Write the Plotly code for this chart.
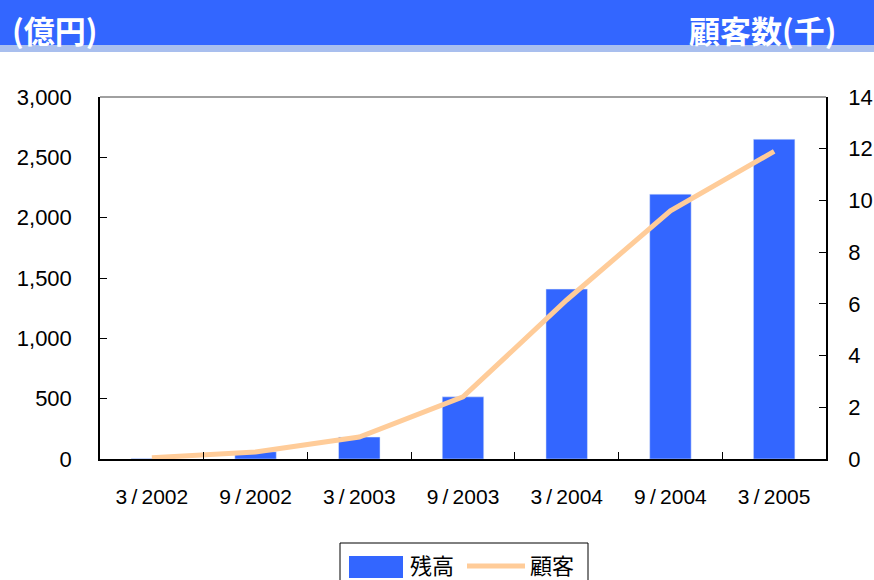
import plotly.graph_objects as go

categories = ["3/2002", "9/2002", "3/2003", "9/2003", "3/2004", "9/2004", "3/2005"]
balance = [5, 60, 182, 515, 1408, 2195, 2650]          # 残高 (億円)
customers = [0.05, 0.27, 0.85, 2.4, 6.15, 9.6, 11.9]    # 顧客 (千)
left_ticks = [0, 500, 1000, 1500, 2000, 2500, 3000]
right_ticks = [0, 2, 4, 6, 8, 10, 12, 14]

labels = [c.replace("/", "\u2009/\u2009") for c in categories]

W, H = 874, 580
L, R, T, B = 100, 826, 97, 459
pw, ph = R - L, B - T

def px(x):
    return (x - L) / pw

def py(y):
    return (B - y) / ph

BLUE = "#3366FF"
ORANGE = "#FFCC99"

fig = go.Figure()
fig.add_trace(go.Bar(x=labels, y=balance, name="残高", marker_color=BLUE,
                     width=0.4, yaxis="y"))
fig.add_trace(go.Scatter(x=labels, y=customers, name="顧客", mode="lines",
                         line=dict(color=ORANGE, width=5), yaxis="y2"))

num_font = dict(family="Liberation Sans, Arial, sans-serif", size=22, color="black")
cjk = "Noto Sans CJK JP, sans-serif"

fig.update_layout(
    width=W, height=H,
    margin=dict(l=L, r=W - R, t=T, b=H - B, autoexpand=False),
    paper_bgcolor="white", plot_bgcolor="white",
    font=dict(family="Liberation Sans, Noto Sans CJK JP, sans-serif", color="black"),
    showlegend=False,
    xaxis=dict(showline=True, linecolor="black", linewidth=2, ticks="inside",
               tickson="boundaries", ticklen=7, tickcolor="black",
               tickfont=dict(family="Liberation Sans, Arial, sans-serif", size=21, color="black"),
               showgrid=False, zeroline=False, automargin=False, ticklabelstandoff=18),
    yaxis=dict(range=[0, 3000], tickvals=left_ticks, tickformat=",d",
               showline=True, linecolor="black", linewidth=1.5,
               ticks="inside", ticklen=7, tickcolor="black",
               tickfont=num_font, showgrid=False, zeroline=False,
               automargin=False, ticklabelstandoff=22),
    yaxis2=dict(range=[0, 14], tickvals=right_ticks, overlaying="y", side="right",
                showline=True, linecolor="black", linewidth=1.5,
                ticks="inside", ticklen=7, tickcolor="black",
                tickfont=num_font, showgrid=False, zeroline=False,
                automargin=False, ticklabelstandoff=16),
    shapes=[
        # header band
        dict(type="rect", xref="paper", yref="paper", x0=px(0), x1=px(W),
             y0=py(45), y1=py(0), fillcolor=BLUE, line_width=0, layer="below"),
        dict(type="rect", xref="paper", yref="paper", x0=px(0), x1=px(W),
             y0=py(52), y1=py(45), fillcolor="#A9BFEE", line_width=0, layer="below"),
        # grey top border of plot
        dict(type="line", xref="paper", yref="paper", x0=0, x1=1, y0=1, y1=1,
             line=dict(color="#808080", width=1.5)),
        # legend box
        dict(type="rect", xref="paper", yref="paper", x0=px(340), x1=px(588),
             y0=py(585), y1=py(543), fillcolor="white",
             line=dict(color="black", width=1)),
        dict(type="rect", xref="paper", yref="paper", x0=px(349), x1=px(403),
             y0=py(578), y1=py(556), fillcolor=BLUE, line_width=0),
        dict(type="line", xref="paper", yref="paper", x0=px(467), x1=px(525),
             y0=py(566), y1=py(566), line=dict(color=ORANGE, width=5)),
    ],
    annotations=[
        dict(text="<b>(億円)</b>", xref="paper", yref="paper", x=px(10), y=py(30),
             xanchor="left", yanchor="middle", showarrow=False,
             font=dict(family=cjk, size=31, color="white")),
        dict(text="<b>顧客数(千)</b>", xref="paper", yref="paper", x=px(838), y=py(30),
             xanchor="right", yanchor="middle", showarrow=False,
             font=dict(family=cjk, size=31, color="white")),
        dict(text="残高", xref="paper", yref="paper", x=px(408), y=py(564),
             xanchor="left", yanchor="middle", showarrow=False,
             font=dict(family=cjk, size=22, color="black")),
        dict(text="顧客", xref="paper", yref="paper", x=px(528), y=py(564),
             xanchor="left", yanchor="middle", showarrow=False,
             font=dict(family=cjk, size=22, color="black")),
    ],
)

fig.write_html("out.html")
